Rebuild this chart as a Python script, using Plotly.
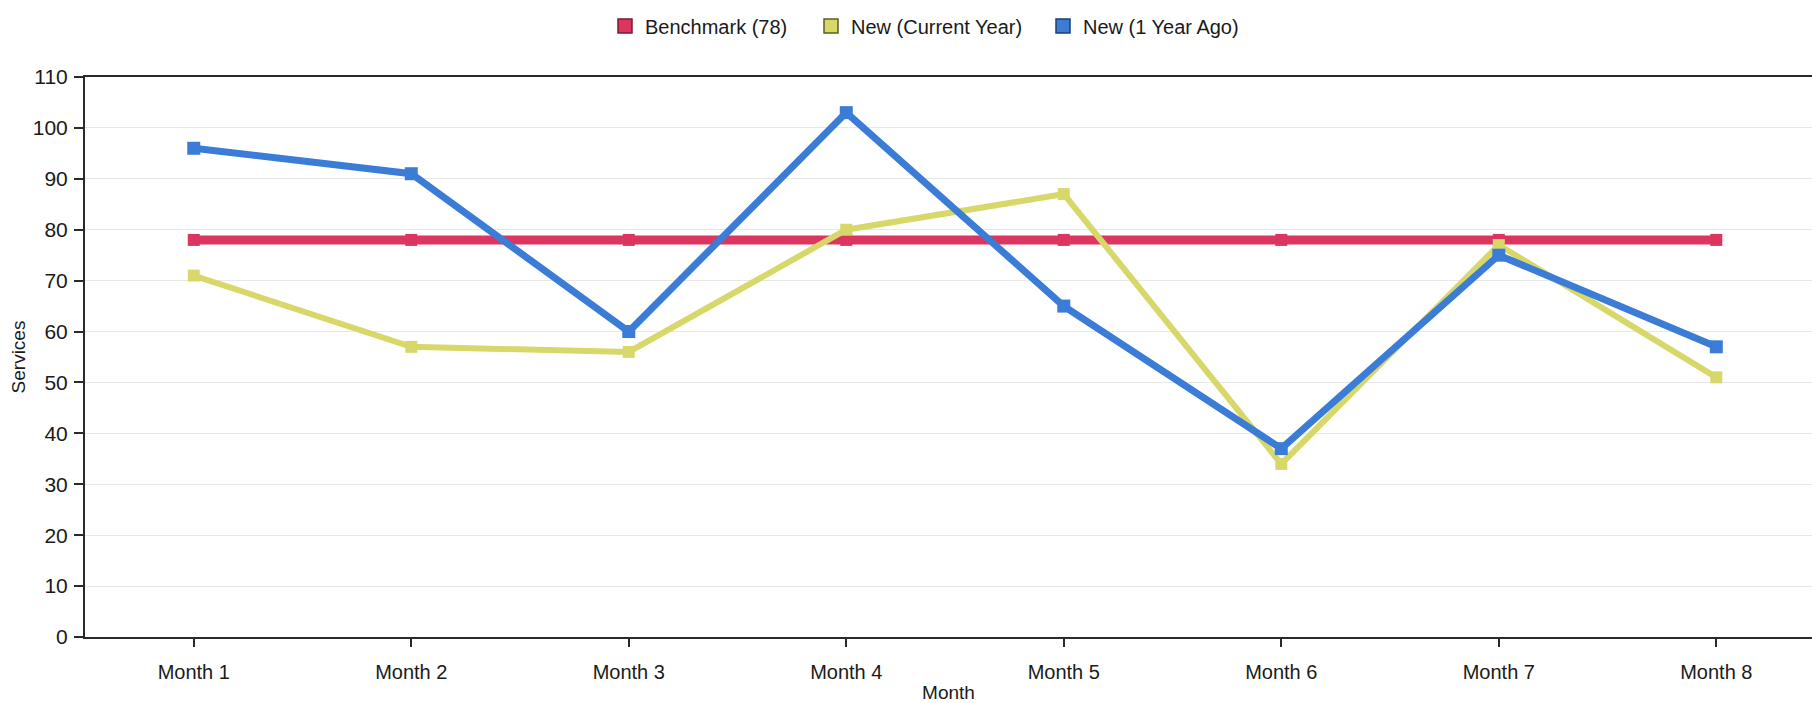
import plotly.graph_objects as go

# ---- data ---------------------------------------------------------------
months = ["Month 1", "Month 2", "Month 3", "Month 4",
          "Month 5", "Month 6", "Month 7", "Month 8"]
benchmark = [78, 78, 78, 78, 78, 78, 78, 78]
new_current_year = [71, 57, 56, 80, 87, 34, 77, 51]
new_one_year_ago = [96, 91, 60, 103, 65, 37, 75, 57]
y_tick_values = [0, 10, 20, 30, 40, 50, 60, 70, 80, 90, 100, 110]

# ---- styling ------------------------------------------------------------
FONT = "Liberation Sans, Arial, Helvetica, sans-serif"
TEXT = "#1a1a1a"
AXIS = "#2a2a2a"

series = [
    # name, values, line colour, legend edge, line width, marker size, legend id
    ("Benchmark (78)", benchmark, "#dc3560", "#7a1b33", 9, 12, "legend"),
    ("New (Current Year)", new_current_year, "#d8d86a", "#5c5c22", 6, 12, "legend2"),
    ("New (1 Year Ago)", new_one_year_ago, "#3a7cd6", "#1c3f70", 7, 13, "legend3"),
]

fig = go.Figure()

for name, values, color, edge, lw, ms, leg in series:
    fig.add_trace(go.Scatter(
        x=months, y=values, name=name, mode="lines+markers",
        line=dict(color=color, width=lw),
        marker=dict(symbol="square", size=ms, color=color),
        showlegend=False,
    ))

# square swatches for the legend entries
for name, values, color, edge, lw, ms, leg in series:
    fig.add_trace(go.Scatter(
        x=[None], y=[None], name=name, mode="markers",
        marker=dict(symbol="square", size=14, color=color,
                    line=dict(color=edge, width=1.5)),
        legend=leg, showlegend=True,
    ))

PLOT_L, PLOT_R = 85, 1812
PLOT_T, PLOT_B = 77, 637
W, H = 1812, 703
plot_w = PLOT_R - PLOT_L
plot_h = PLOT_B - PLOT_T


def legend_at(px_left, py_center):
    return dict(
        orientation="h",
        x=(px_left - PLOT_L) / plot_w, xanchor="left",
        y=1 + (PLOT_T - py_center) / plot_h, yanchor="middle",
        font=dict(family=FONT, size=20, color=TEXT),
        bgcolor="rgba(0,0,0,0)", borderwidth=0,
    )


fig.update_layout(
    width=W, height=H,
    margin=dict(l=PLOT_L, r=W - PLOT_R, t=PLOT_T, b=H - PLOT_B, pad=0),
    paper_bgcolor="white", plot_bgcolor="white",
    font=dict(family=FONT, size=20, color=TEXT),
    legend=legend_at(605, 26),
    legend2=legend_at(811, 26),
    legend3=legend_at(1043, 26),
    xaxis=dict(
        type="category", range=[-0.5, 7.44],
        showline=True, linecolor=AXIS, linewidth=2, mirror=True,
        ticks="outside", ticklen=8, tickwidth=1.5, tickcolor=AXIS,
        ticklabelstandoff=8,
        showgrid=False, zeroline=False,
        tickfont=dict(family=FONT, size=20, color=TEXT),
        title=dict(text="Month", font=dict(family=FONT, size=19, color=TEXT),
                   standoff=8),
    ),
    yaxis=dict(
        range=[0, 110], tickvals=y_tick_values,
        showline=True, linecolor=AXIS, linewidth=2, mirror=False,
        ticks="outside", ticklen=9, tickwidth=1.5, tickcolor=AXIS,
        ticklabelstandoff=2,
        showgrid=True, gridcolor="#e8e8e8", gridwidth=1,
        zeroline=False,
        tickfont=dict(family=FONT, size=21, color=TEXT),
        title=dict(text="Services", font=dict(family=FONT, size=19, color=TEXT),
                   standoff=2),
    ),
)

fig.write_html("out.html")
